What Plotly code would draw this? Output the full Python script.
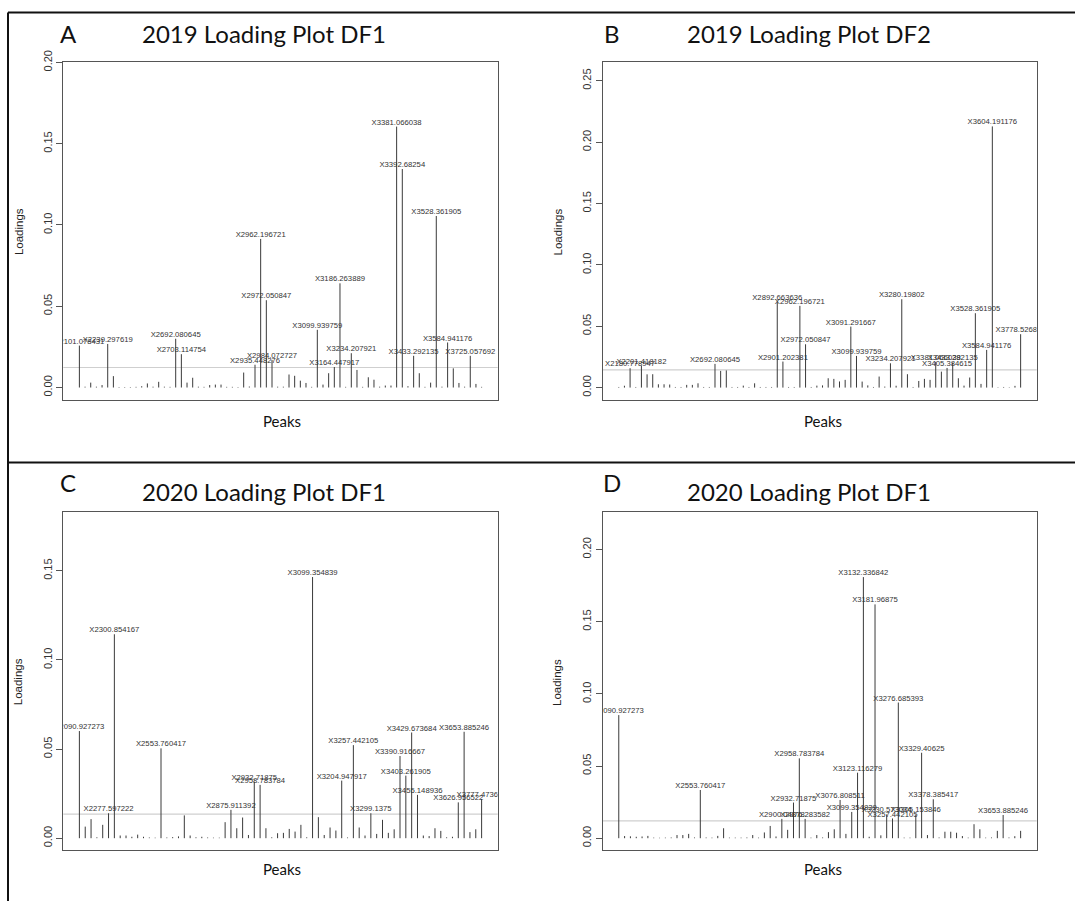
import plotly.graph_objects as go

# ---------------- 2019 DF1 loadings (72 peaks) ----------------
a_values = [
    0.0258, 0.0005, 0.0030, 0.0005, 0.0015, 0.0268, 0.0070, 0.0003, 0.0003, 0.0003,
    0.0004, 0.0008, 0.0025, 0.0005, 0.0035, 0.0005, 0.0004, 0.0300, 0.0205, 0.0030,
    0.0060, 0.0005, 0.0004, 0.0015, 0.0018, 0.0018, 0.0004, 0.0004, 0.0003, 0.0092,
    0.0006, 0.0140, 0.0914, 0.0537, 0.0170, 0.0005, 0.0005, 0.0080, 0.0072, 0.0042,
    0.0028, 0.0004, 0.0355, 0.0018, 0.0088, 0.0126, 0.0641, 0.0004, 0.0211, 0.0108,
    0.0004, 0.0063, 0.0048, 0.0005, 0.0012, 0.0012, 0.1605, 0.1344, 0.0008, 0.0195,
    0.0088, 0.0004, 0.0030, 0.1055, 0.0005, 0.0277, 0.0118, 0.0028, 0.0005, 0.0195,
    0.0022, 0.0004,
]
a_peak_idx = [0, 5, 17, 18, 31, 32, 33, 34, 42, 45, 46, 48, 56, 57, 59, 63, 65, 69]
a_peak_names = [
    "X2101.078431", "X2239.297619", "X2692.080645", "X2703.114754", "X2935.448276",
    "X2962.196721", "X2972.050847", "X2984.072727", "X3099.939759", "X3164.447917",
    "X3186.263889", "X3234.207921", "X3381.066038", "X3392.68254", "X3433.292135",
    "X3528.361905", "X3584.941176", "X3725.057692",
]
a_cutoff = 0.0123

# ---------------- 2019 DF2 loadings (72 peaks) ----------------
b_values = [
    0.0005, 0.0015, 0.0158, 0.0005, 0.0177, 0.0108, 0.0109, 0.0027, 0.0027, 0.0025,
    0.0005, 0.0005, 0.0022, 0.0022, 0.0035, 0.0005, 0.0005, 0.0193, 0.0136, 0.0140,
    0.0005, 0.0005, 0.0016, 0.0005, 0.0035, 0.0005, 0.0005, 0.0005, 0.0701, 0.0212,
    0.0005, 0.0005, 0.0666, 0.0353, 0.0005, 0.0016, 0.0018, 0.0076, 0.0071, 0.0050,
    0.0063, 0.0497, 0.0258, 0.0049, 0.0018, 0.0005, 0.0090, 0.0008, 0.0198, 0.0015,
    0.0720, 0.0109, 0.0005, 0.0054, 0.0071, 0.0063, 0.0210, 0.0130, 0.0160, 0.0205,
    0.0076, 0.0016, 0.0082, 0.0606, 0.0030, 0.0307, 0.2128, 0.0003, 0.0005, 0.0003,
    0.0014, 0.0435,
]
b_peak_idx = [2, 4, 17, 28, 29, 32, 33, 41, 42, 48, 50, 56, 58, 59, 63, 65, 66, 71]
b_peak_names = [
    "X2180.778947", "X2201.418182", "X2692.080645", "X2892.663636", "X2901.202381",
    "X2962.196721", "X2972.050847", "X3091.291667", "X3099.939759", "X3234.207921",
    "X3280.19802", "X3381.066038", "X3405.384615", "X3433.292135", "X3528.361905",
    "X3584.941176", "X3604.191176", "X3778.526882",
]
b_cutoff = 0.0145

# ---------------- 2020 DF1 loadings (70 peaks) ----------------
c_values = [
    0.0601, 0.0065, 0.0107, 0.0005, 0.0075, 0.0140, 0.1144, 0.0015, 0.0015, 0.0008,
    0.0020, 0.0008, 0.0004, 0.0003, 0.0504, 0.0004, 0.0006, 0.0010, 0.0128, 0.0015,
    0.0005, 0.0008, 0.0004, 0.0003, 0.0003, 0.0090, 0.0159, 0.0056, 0.0116, 0.0018,
    0.0317, 0.0299, 0.0056, 0.0005, 0.0028, 0.0030, 0.0052, 0.0037, 0.0075, 0.0005,
    0.1465, 0.0118, 0.0018, 0.0060, 0.0043, 0.0323, 0.0004, 0.0522, 0.0060, 0.0015,
    0.0140, 0.0024, 0.0103, 0.0030, 0.0050, 0.0461, 0.0351, 0.0593, 0.0243, 0.0015,
    0.0012, 0.0056, 0.0041, 0.0005, 0.0008, 0.0201, 0.0597, 0.0034, 0.0050, 0.0220,
]
c_peak_idx = [0, 5, 6, 14, 26, 30, 31, 40, 45, 47, 50, 55, 56, 57, 58, 65, 66, 69]
c_peak_names = [
    "X2090.927273", "X2277.597222", "X2300.854167", "X2553.760417", "X2875.911392",
    "X2932.71875", "X2958.783784", "X3099.354839", "X3204.947917", "X3257.442105",
    "X3299.1375", "X3390.916667", "X3403.261905", "X3429.673684", "X3455.148936",
    "X3626.956522", "X3653.885246", "X3777.473684",
]
c_cutoff = 0.0135

# ---------------- 2020 DF1 loadings, second model (70 peaks) ----------------
d_values = [
    0.0853, 0.0015, 0.0013, 0.0010, 0.0012, 0.0016, 0.0004, 0.0003, 0.0004, 0.0005,
    0.0022, 0.0022, 0.0030, 0.0005, 0.0334, 0.0005, 0.0004, 0.0016, 0.0069, 0.0004,
    0.0004, 0.0004, 0.0005, 0.0022, 0.0004, 0.0040, 0.0085, 0.0012, 0.0134, 0.0058,
    0.0247, 0.0553, 0.0134, 0.0004, 0.0022, 0.0005, 0.0042, 0.0062, 0.0265, 0.0030,
    0.0182, 0.0454, 0.1809, 0.0010, 0.1620, 0.0020, 0.0165, 0.0137, 0.0940, 0.0004,
    0.0004, 0.0165, 0.0592, 0.0022, 0.0270, 0.0005, 0.0045, 0.0045, 0.0038, 0.0015,
    0.0004, 0.0097, 0.0062, 0.0004, 0.0005, 0.0051, 0.0161, 0.0005, 0.0014, 0.0051,
]
d_peak_idx = [0, 14, 28, 30, 31, 32, 38, 40, 41, 42, 44, 46, 47, 48, 51, 52, 54, 66]
d_peak_names = [
    "X2090.927273", "X2553.760417", "X2900.04878", "X2932.71875", "X2958.783784",
    "X2976.283582", "X3076.808511", "X3099.354839", "X3123.116279", "X3132.336842",
    "X3181.96875", "X3230.573034", "X3257.442105", "X3276.685393", "X3305.153846",
    "X3329.40625", "X3378.385417", "X3653.885246",
]
d_cutoff = 0.0120

panel_letters = ["A", "B", "C", "D"]
panel_titles = ["2019 Loading Plot DF1", "2019 Loading Plot DF2",
                "2020 Loading Plot DF1", "2020 Loading Plot DF1"]
y_ticks = [[0.00, 0.05, 0.10, 0.15, 0.20],
           [0.00, 0.05, 0.10, 0.15, 0.20, 0.25],
           [0.00, 0.05, 0.10, 0.15],
           [0.00, 0.05, 0.10, 0.15, 0.20]]

W, H = 1075, 901

# plot boxes in pixels: (left, right, top, bottom) and y ranges
boxes = [(63.3, 497.7, 50.4, 393.1), (602.7, 1036.7, 50.4, 393.1),
         (63.3, 497.7, 506.9, 849.1), (602.7, 1036.7, 506.9, 849.8)]
y_ranges = [[-0.0076, 0.2004], [-0.0100, 0.2655], [-0.0065, 0.1829], [-0.0085, 0.2259]]

# vertical pixel positions of the headings for the two rows of panels
row_letter_y = [21.3, 476.7]
row_title_y = [21.3, 486.1]
row_xlabel_y = [414.4, 868.9]
frame_top_y = 0.6
divider_y = 456.7

panels = [
    (a_values, a_peak_idx, a_peak_names, a_cutoff),
    (b_values, b_peak_idx, b_peak_names, b_cutoff),
    (c_values, c_peak_idx, c_peak_names, c_cutoff),
    (d_values, d_peak_idx, d_peak_names, d_cutoff),
]

R_FONT = "Liberation Sans, Arial, Helvetica, sans-serif"
HEAD_FONT = "Lato, Open Sans, sans-serif"

fig = go.Figure()
layout = dict(width=W, height=H, margin=dict(l=0, r=0, t=0, b=0),
              paper_bgcolor="white", plot_bgcolor="white", showlegend=False)
shapes, annotations = [], []


def px_x(p):
    return p / W


def px_y(p):
    return 1 - p / H


for k, (vals, idx, names, cutoff) in enumerate(panels):
    sfx = "" if k == 0 else str(k + 1)
    xa, ya = "x" + sfx, "y" + sfx
    n = len(vals)
    left, right, top, bottom = boxes[k]
    row = k // 2

    # vertical loading lines (type = "h")
    xs, ys = [], []
    for i, v in enumerate(vals):
        xs += [i, i, None]
        ys += [0, v, None]
    fig.add_trace(go.Scatter(x=xs, y=ys, mode="lines", xaxis=xa, yaxis=ya,
                             line=dict(color="#3a3a3a", width=1),
                             hoverinfo="skip"))

    # names of peaks above the cutoff
    fig.add_trace(go.Scatter(x=idx, y=[vals[i] for i in idx], text=names,
                             mode="text", textposition="top center",
                             textfont=dict(family=R_FONT, size=7.7, color="#333333"),
                             cliponaxis=True, xaxis=xa, yaxis=ya, hoverinfo="skip"))

    layout["xaxis" + sfx] = dict(
        domain=[px_x(left), px_x(right)], anchor=ya,
        range=[-0.04 * (n - 1), 1.04 * (n - 1)],
        showticklabels=False, ticks="", showgrid=False, zeroline=False,
        showline=True, mirror=True, linecolor="#555555", linewidth=1)
    layout["yaxis" + sfx] = dict(
        domain=[px_y(bottom), px_y(top)], anchor=xa, range=y_ranges[k],
        tickvals=y_ticks[k], ticktext=["%.2f" % t for t in y_ticks[k]],
        ticks="outside", ticklen=6, tickcolor="#555555", tickangle=-90,
        tickfont=dict(family=R_FONT, size=11, color="#333333"),
        showgrid=False, zeroline=False,
        showline=True, mirror=True, linecolor="#555555", linewidth=1)

    # cutoff line
    shapes.append(dict(type="line", xref=xa + " domain", yref=ya,
                       x0=0, x1=1, y0=cutoff, y1=cutoff,
                       line=dict(color="#cfcfcf", width=1.2), layer="below"))

    cx = (left + right) / 2
    # panel letter and title
    letter_x = left + 5 if k % 2 == 0 else left + 9.5
    title_x = 263.5 if k % 2 == 0 else 808.7
    annotations.append(dict(text=panel_letters[k], xref="paper", yref="paper",
                            x=px_x(letter_x), y=px_y(row_letter_y[row]), showarrow=False,
                            xanchor="center", yanchor="middle",
                            font=dict(family=HEAD_FONT, size=24, color="#111111")))
    annotations.append(dict(text=panel_titles[k], xref="paper", yref="paper",
                            x=px_x(title_x), y=px_y(row_title_y[row]), showarrow=False,
                            xanchor="center", yanchor="middle",
                            font=dict(family=HEAD_FONT, size=24, color="#111111")))
    # axis titles
    annotations.append(dict(text="Peaks", xref="paper", yref="paper",
                            x=px_x(cx + 1.5 if k % 2 == 0 else cx + 3),
                            y=px_y(row_xlabel_y[row]), showarrow=False,
                            xanchor="center", yanchor="middle",
                            font=dict(family=HEAD_FONT, size=15, color="#111111")))
    annotations.append(dict(text="Loadings", xref="paper", yref="paper",
                            x=px_x(left - 45), y=px_y((top + bottom) / 2 + 1),
                            showarrow=False, textangle=-90,
                            xanchor="center", yanchor="middle",
                            font=dict(family=R_FONT, size=11.5, color="#222222")))

# figure frame: top edge, left edge and the row divider
frame = [(8, frame_top_y, W, frame_top_y), (8, frame_top_y, 8, H),
         (8, divider_y, W, divider_y)]
for x0, y0, x1, y1 in frame:
    shapes.append(dict(type="line", xref="paper", yref="paper",
                       x0=px_x(x0), y0=px_y(y0), x1=px_x(x1), y1=px_y(y1),
                       line=dict(color="#111111", width=2)))

layout["shapes"] = shapes
layout["annotations"] = annotations
fig.update_layout(**layout)
fig.write_html("out.html")
